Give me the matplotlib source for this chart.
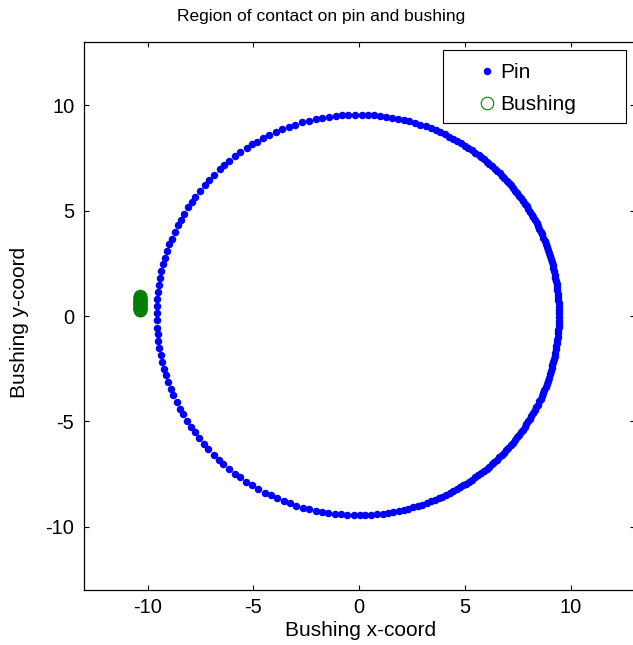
import numpy as np
import matplotlib
matplotlib.use("Agg")
import matplotlib.pyplot as plt
from matplotlib.patches import Rectangle

plt.rcParams['font.family'] = ['Liberation Sans', 'DejaVu Sans']
plt.rcParams['axes.unicode_minus'] = False

# pin contact points: angle (deg) around the pin centre
pin_angles = [
    0.6, 1.5, 2.3, 3.4, 4.2, 5.1, 6.0, 7.1, 7.9, 8.8, 9.9, 10.7, 11.6, 12.6,
    13.5, 14.3, 15.4, 16.2, 17.1, 18.1, 19.0, 19.8, 20.9, 21.8, 22.6, 23.7,
    24.5, 25.4, 26.5, 27.3, 28.2, 29.3, 30.1, 31.0, 32.0, 32.9, 33.8, 34.8,
    35.6, 36.5, 37.6, 38.4, 39.3, 40.4, 41.2, 42.1, 43.2, 44.1, 45.0, 46.1,
    47.0, 48.0, 49.1, 50.0, 51.0, 52.2, 53.1, 54.2,
    55.4, 56.6, 57.8, 59.1, 60.3, 61.7, 63.0, 64.4, 65.9, 67.2, 68.8, 70.3,
    71.9, 73.4, 75.1, 76.8, 78.4, 80.1, 81.9, 83.6, 85.5, 87.2, 88.9, 90.8,
    92.7, 94.4, 96.3, 98.2,
    100.1, 102.0, 104.1, 106.0, 108.1, 110.0, 112.1, 114.0, 116.1, 118.2,
    120.0, 121.6, 123.5, 125.7, 127.6, 129.8, 131.7, 133.4, 135.6, 137.8,
    139.5, 141.6, 143.8, 145.6, 147.5, 149.7, 151.6, 153.4, 155.5, 157.6,
    159.4, 161.5, 163.6, 165.2, 167.4, 169.5, 171.3, 173.4, 175.5, 177.3, 179.4,
    181.5, 183.6, 185.4, 187.5, 189.6, 191.4, 193.5, 195.7, 197.6, 199.7,
    201.8, 203.6, 205.8, 207.9, 209.7, 211.9, 214.0, 215.9, 218.0, 220.1,
    222.0, 224.2, 226.3, 228.1, 230.3, 232.4, 234.2, 236.4, 238.3, 240.4,
    242.5, 244.3, 246.3, 248.4, 250.2, 252.2, 254.1, 256.0, 257.9, 259.8,
    261.6, 263.5, 265.2, 267.0, 268.8,
    270.5, 272.2, 273.9, 275.5, 277.1, 278.7, 280.2, 281.7, 283.2, 284.6,
    286.0, 287.4, 288.7, 290.0, 291.3, 292.5, 293.7, 294.9, 296.1, 297.2,
    298.3, 299.4, 300.5, 301.6, 302.6, 303.7, 304.7, 305.8, 306.8, 307.8,
    308.8, 309.8, 310.8, 311.8, 312.8, 313.7, 314.7, 315.7, 316.6, 317.6,
    318.5, 319.5, 320.4, 321.4, 322.3, 323.2, 324.2, 325.1, 326.0, 327.0,
    327.9, 328.8, 329.7, 330.7, 331.6, 332.5, 333.4, 334.4, 335.3, 336.2,
    337.1, 338.0, 339.0, 339.9, 340.8, 341.7, 342.7, 343.6, 344.5, 345.4,
    346.4, 347.3, 348.2, 349.1, 350.1, 351.0, 351.9, 352.8, 353.8, 354.7,
    355.6, 356.5, 357.5, 358.4, 359.3,
]
pin_radius = 9.5
pin_centre = (-0.07, 0.05)

# bushing contact points (tight cluster on the left)
bush_x = [-10.35, -10.36, -10.35, -10.34, -10.35, -10.36, -10.35, -10.34,
          -10.35, -10.36, -10.35, -10.34, -10.35, -10.36, -10.35, -10.34,
          -10.35, -10.36, -10.35, -10.34, -10.35, -10.36, -10.35, -10.34,
          -10.35, -10.36, -10.35, -10.34, -10.35, -10.35]
bush_y = [0.27, 0.29, 0.31, 0.33, 0.36, 0.38, 0.40, 0.43, 0.45, 0.47,
          0.50, 0.52, 0.54, 0.57, 0.59, 0.61, 0.64, 0.66, 0.68, 0.71,
          0.73, 0.75, 0.78, 0.80, 0.82, 0.85, 0.87, 0.89, 0.92, 0.95]

ticks = [-10, -5, 0, 5, 10]

W, H = 633, 645
fig = plt.figure(figsize=(W / 100, H / 100), dpi=100)
ax = fig.add_axes([84 / W, (H - 590) / H, 550.5 / W, 548 / H])

th = np.radians(pin_angles)
pin_x = pin_centre[0] + pin_radius * np.cos(th)
pin_y = pin_centre[1] + pin_radius * np.sin(th)

ax.plot(pin_x, pin_y, 'o', color='#0000ff', ms=5.4, mew=0, ls='none', label='Pin')
ax.plot(bush_x, bush_y, 'o', mfc='none', mec='#008000', ms=9, mew=0.8,
        ls='none', label='Bushing')

ax.set_xlim(-13, 13)
ax.set_ylim(-13, 13)
ax.set_xticks(ticks)
ax.set_yticks(ticks)
ax.tick_params(direction='in', length=3.5, width=0.8, top=True, right=True,
               labelsize=14.5, colors='black')
ax.tick_params(axis='x', pad=5.5)
ax.tick_params(axis='y', pad=7)
for s in ax.spines.values():
    s.set_linewidth(0.9)

fig.text(321 / W, 1 - 17 / H, 'Region of contact on pin and bushing',
         ha='center', va='center', fontsize=12.5)
fig.text(361 / W, 1 - 631 / H, 'Bushing x-coord', ha='center', va='center',
         fontsize=15)
fig.text(20 / W, 1 - 322 / H, 'Bushing y-coord', ha='center', va='center',
         rotation=90, fontsize=15)

# legend, frame drawn separately to match the wide box
leg = ax.legend(loc='upper left', frameon=False, fontsize=15, numpoints=1,
                handlelength=1.0, handletextpad=0.15, borderpad=0,
                borderaxespad=0, labelspacing=0.64,
                bbox_to_anchor=(476.6 / W, 1 - 63 / H),
                bbox_transform=fig.transFigure)
fig.patches.append(Rectangle((443 / W, 1 - 123 / H), 183 / W, 73 / H,
                             transform=fig.transFigure, fill=False,
                             edgecolor='black', linewidth=0.8))

fig.savefig('out.png', dpi=100)
